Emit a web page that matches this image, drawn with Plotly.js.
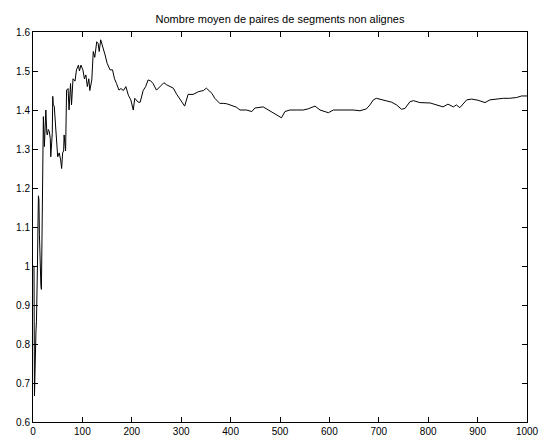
<!DOCTYPE html>
<html>
<head>
<meta charset="utf-8">
<script src="https://cdn.plot.ly/plotly-3.0.1.min.js"></script>
<style>html,body{margin:0;padding:0;background:#fff;}#chart{width:544px;height:439px;}</style>
</head>
<body>
<div id="chart"></div>
<script>
const chartTitle = "Nombre moyen de paires de segments non alignes";
const iterations = [1,2,3,4,5,6,7,8,9,10,11,12,13,14,15,16,17,18,19,20,21,23,26,28,29,31,33,35,36,37,39,40,41,43,46,48,50,53,56,58,60,62,63,66,68,71,73,76,78,81,85,88,92,94,97,101,104,107,110,113,115,119,122,125,129,132,134,137,141,146,150,156,161,165,169,174,178,183,188,193,198,203,206,210,213,217,223,228,233,238,243,250,257,265,270,277,284,291,301,307,314,324,335,345,351,358,362,368,378,385,392,399,405,412,419,432,443,449,466,476,486,497,503,510,520,534,547,557,571,581,598,608,621,635,648,662,675,682,689,695,706,716,726,736,746,753,763,770,783,804,817,830,840,851,857,864,878,888,901,915,925,938,952,965,979,989,1000];
const meanPairs = [1.0,1.0,0.667,0.75,0.8,0.833,0.857,0.9,1.0,1.1,1.18,1.17,1.08,1.0,1.0,0.95,0.94,1.1,1.25,1.38,1.383,1.306,1.40,1.34,1.336,1.35,1.345,1.327,1.28,1.30,1.34,1.435,1.413,1.41,1.349,1.336,1.28,1.29,1.272,1.25,1.29,1.295,1.336,1.295,1.451,1.455,1.40,1.468,1.413,1.48,1.474,1.503,1.515,1.50,1.515,1.503,1.48,1.49,1.46,1.48,1.45,1.477,1.55,1.535,1.575,1.57,1.55,1.58,1.565,1.541,1.52,1.503,1.503,1.48,1.468,1.451,1.455,1.45,1.46,1.438,1.426,1.40,1.43,1.425,1.42,1.42,1.45,1.46,1.477,1.475,1.468,1.451,1.46,1.47,1.465,1.46,1.456,1.44,1.42,1.41,1.44,1.44,1.447,1.45,1.456,1.447,1.443,1.43,1.417,1.417,1.416,1.413,1.41,1.407,1.40,1.40,1.396,1.405,1.408,1.40,1.392,1.383,1.38,1.396,1.40,1.40,1.40,1.403,1.41,1.40,1.393,1.40,1.40,1.40,1.40,1.398,1.403,1.413,1.426,1.43,1.426,1.423,1.42,1.413,1.402,1.404,1.421,1.424,1.419,1.418,1.413,1.408,1.415,1.408,1.413,1.406,1.426,1.428,1.425,1.419,1.426,1.428,1.43,1.43,1.432,1.436,1.436];
const xTicks = [0,100,200,300,400,500,600,700,800,900,1000];
const yTicks = [0.6,0.7,0.8,0.9,1,1.1,1.2,1.3,1.4,1.5,1.6];

const fontFamily = "Liberation Sans, Arial, Helvetica, sans-serif";
const axisCommon = {
  showgrid: false, zeroline: false, showline: true, linecolor: "#000", linewidth: 1,
  mirror: "ticks", ticks: "inside", ticklen: 5, tickcolor: "#000", tickwidth: 1,
  tickfont: {family: fontFamily, size: 10, color: "#000"}, fixedrange: true
};
Plotly.newPlot("chart", [{
  x: iterations, y: meanPairs, type: "scatter", mode: "lines",
  line: {color: "#000", width: 1}, hoverinfo: "skip"
}], {
  width: 544, height: 439,
  margin: {l: 33, r: 17, t: 32, b: 17, pad: 0},
  paper_bgcolor: "#fff", plot_bgcolor: "#fff",
  showlegend: false,
  title: {text: chartTitle, font: {family: fontFamily, size: 11, color: "#000"},
          x: 0.5, xref: "paper", y: 1 - 19/439, yref: "container", yanchor: "middle"},
  xaxis: Object.assign({}, axisCommon, {range: [0, 1000], tickmode: "array", tickvals: xTicks, ticktext: xTicks.map(String)}),
  yaxis: Object.assign({}, axisCommon, {range: [0.6, 1.6], tickmode: "array", tickvals: yTicks, ticktext: yTicks.map(String)})
}, {displayModeBar: false, staticPlot: true});
</script>
</body>
</html>
